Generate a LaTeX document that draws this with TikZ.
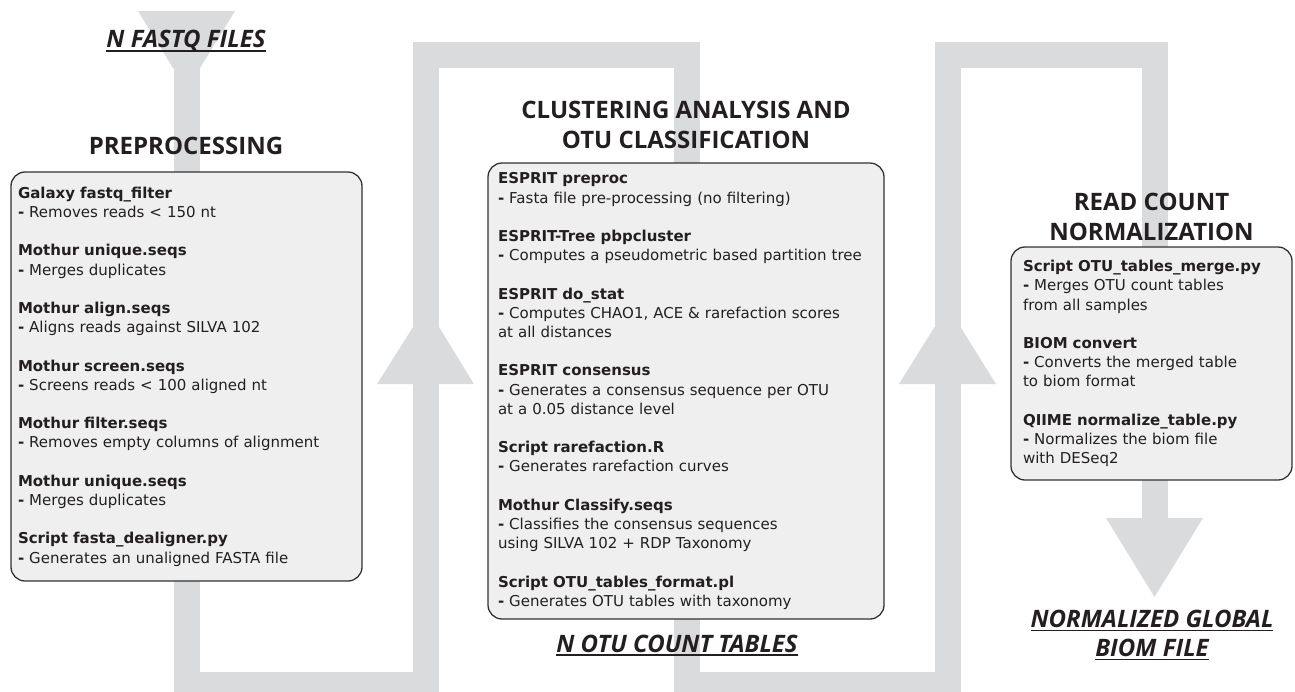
\documentclass[tikz,border=0pt]{standalone}
\usepackage{fontspec}
\setmainfont{DejaVu Sans}
\newfontfamily\headfont{Open Sans}

\definecolor{bandgray}{RGB}{218,219,221}
\definecolor{boxfill}{RGB}{239,239,239}
\definecolor{boxline}{RGB}{50,50,50}
\definecolor{ink}{RGB}{35,31,32}

\newcommand{\tool}[2]{\textbf{#1}\\\textbf{-} #2}
\newcommand{\undl}[1]{\setbox0\hbox{#1}\rlap{\rule[-4pt]{\wd0}{1.7pt}}\box0}

\tikzset{
  procbox/.style={draw=boxline, line width=1.3pt, fill=boxfill, rounded corners=14pt,
    align=left, inner ysep=2pt, text=ink, font=\fontsize{15}{19.2}\selectfont},
  headline/.style={align=center, text=ink, font=\headfont\bfseries\fontsize{24}{30}\selectfont},
  outlabel/.style={align=center, text=ink, font=\headfont\bfseries\itshape\fontsize{24}{29}\selectfont},
  band/.style={bandgray}
}

\begin{document}
\begin{tikzpicture}[x=1pt,y=-1pt]
		\useasboundingbox (0,0) rectangle (1295,691);
		% grey flow band
		\begin{scope}
		\clip (0,0) rectangle (1295,691);
		\fill[band] (138,11) -- (235,11) -- (200,68) -- (173,68) -- cycle;
		\draw[band, line width=26pt] (186.5,68) -- (186.5,685) -- (426,685) -- (426,55) -- (686.5,55) -- (686.5,685) -- (947.5,685) -- (947.5,55) -- (1154.5,55) -- (1154.5,518);
		\fill[band] (413,327) -- (439,327) -- (474,384) -- (377,384) -- cycle;
		\fill[band] (934.5,327) -- (960.5,327) -- (996,384) -- (899,384) -- cycle;
		\fill[band] (1106,518) -- (1203,518) -- (1154.5,597) -- cycle;
		\end{scope}

		% inputs and outputs
		\node[outlabel, anchor=base](fastq) at (186,47.7) {\undl{N FASTQ FILES}};
		\node[outlabel, anchor=base](otu) at (677,652) {\undl{N OTU COUNT TABLES}};
		\node[outlabel](biom) at (1152,635) {\undl{NORMALIZED GLOBAL}\\\undl{BIOM FILE}};

		% headings
		\node[headline](hpre) at (186,145.5) {PREPROCESSING};
		\node[headline](hclu) at (686,125) {CLUSTERING ANALYSIS AND\\OTU CLASSIFICATION};
		\node[headline](hnorm) at (1151.5,216.7) {READ COUNT\\NORMALIZATION};

		% boxes
		\node[procbox, text width=337pt, inner xsep=7pt, minimum height=409pt](pre) at (186.5,376.5) {
			\tool{Galaxy fastq\_filter}{Removes reads < 150 nt}\\[19.2pt]
			\tool{Mothur unique.seqs}{Merges duplicates}\\[19.2pt]
			\tool{Mothur align.seqs}{Aligns reads against SILVA 102}\\[19.2pt]
			\tool{Mothur screen.seqs}{Screens reads < 100 aligned nt}\\[19.2pt]
			\tool{Mothur filter.seqs}{Removes empty columns of alignment}\\[19.2pt]
			\tool{Mothur unique.seqs}{Merges duplicates}\\[19.2pt]
			\tool{Script fasta\_dealigner.py}{Generates an unaligned FASTA file}};
		\node[procbox, text width=376pt, inner xsep=10pt, minimum height=456pt](clu) at (686,391) {
			\tool{ESPRIT preproc}{Fasta file pre-processing (no filtering)}\\[19.2pt]
			\tool{ESPRIT-Tree pbpcluster}{Computes a pseudometric based partition tree}\\[19.2pt]
			\tool{ESPRIT do\_stat}{Computes CHAO1, ACE \& rarefaction scores\\at all distances}\\[19.2pt]
			\tool{ESPRIT consensus}{Generates a consensus sequence per OTU\\at a 0.05 distance level}\\[19.2pt]
			\tool{Script rarefaction.R}{Generates rarefaction curves}\\[19.2pt]
			\tool{Mothur Classify.seqs}{Classifies the consensus sequences\\using SILVA 102 + RDP Taxonomy}\\[19.2pt]
			\tool{Script OTU\_tables\_format.pl}{Generates OTU tables with taxonomy}};
		\node[procbox, text width=257pt, inner xsep=12pt, minimum height=233pt](norm) at (1151.5,363.5) {
			\tool{Script OTU\_tables\_merge.py}{Merges OTU count tables\\from all samples}\\[19.2pt]
			\tool{BIOM convert}{Converts the merged table\\to biom format}\\[19.2pt]
			\tool{QIIME normalize\_table.py}{Normalizes the biom file\\with DESeq2}};
	\end{tikzpicture}
\end{document}
